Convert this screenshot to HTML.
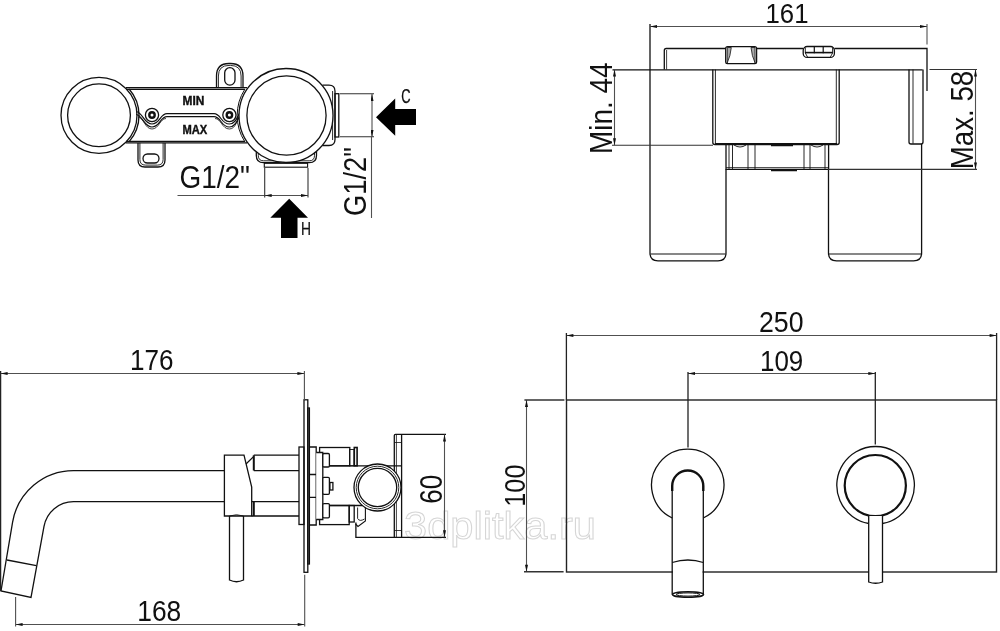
<!DOCTYPE html>
<html><head><meta charset="utf-8">
<style>
html,body{margin:0;padding:0;background:#fff;width:1000px;height:631px;overflow:hidden}
svg{display:block;will-change:transform}
.o{fill:none;stroke:#111;stroke-width:1.3}
.d{fill:none;stroke:#505050;stroke-width:1.1}
.t{fill:#111;font-family:"Liberation Sans",sans-serif}
.f{fill:#000;stroke:none}
</style></head><body>
<svg width="1000" height="631" viewBox="0 0 1000 631">
<defs>
<marker id="ar" viewBox="0 0 7 3" refX="7" refY="1.5" markerWidth="8" markerHeight="3" markerUnits="userSpaceOnUse" orient="auto-start-reverse"><path d="M0,0 L7,1.5 L0,3 z" fill="#111"/></marker>
</defs>

<!-- watermark -->
<text x="404" y="539" font-family="Liberation Sans" font-size="38" textLength="192" lengthAdjust="spacingAndGlyphs" fill="none" stroke="#d6d6d6" stroke-width="1">3dplitka.ru</text>

<!-- ============ TOP LEFT ============ -->
<g class="o">
 <circle cx="99" cy="115.3" r="38"/>
 <circle cx="99" cy="115.3" r="31.4"/>
 <path d="M129.1 89 A40 40 0 0 1 129.2 141.6"/>
 <path d="M126 87.6 L247 87.6 M126 89.3 L245 89.3 M126 141.4 L245 141.4 M126 142.9 L247 142.9"/>
 <!-- wavy -->
 <path d="M136 111.5 C143 112.5,144 124,152 124 C160 124,160 113.7,167 113.7 L214 113.7 C221 113.7,221 124,229.4 124 C237.4 124,238 112.5,241 111.5" stroke-width="1.2"/>
 <path d="M136 114.5 C143 115.5,144 127,152 127 C160 127,160 116.7,167 116.7 L214 116.7 C221 116.7,221 127,229.4 127 C237.4 127,238 115.5,241 114.5" stroke-width="1.2"/>
 <path d="M138 117 C144 118,145 129,152 129 C159 129,160 118.5,166 118.5 M215 118.5 C221 118.5,222 129,229.4 129 C236.4 129,237 118,240 117" stroke-width="0.8"/>
 <circle cx="152" cy="115" r="6.6"/>
 <circle cx="152" cy="115" r="2.7" stroke-width="2.4"/>
 <circle cx="229.4" cy="115" r="6.6"/>
 <circle cx="229.4" cy="115" r="2.7" stroke-width="2.4"/>
 <!-- top tab -->
 <path d="M216.5 87.6 L216.5 76 Q216.5 63.5 229 63.5 L230.5 63.5 Q243 63.5 243 76 L243 87.6"/>
 <path d="M218.4 87.6 L218.4 76 Q218.4 65.4 229 65.4 L230.5 65.4 Q241.1 65.4 241.1 76 L241.1 87.6" stroke-width="0.9"/>
 <rect x="224.7" y="67.7" width="10.3" height="17.4" rx="5.1"/>
 <!-- bottom tab -->
 <path d="M138 142.9 L138 160 Q138 167 145 167 L158 167 Q165 167 165 160 L165 142.9"/>
 <path d="M139.9 142.9 L139.9 159.5 Q139.9 165.1 145.5 165.1 L157.5 165.1 Q163.1 165.1 163.1 159.5 L163.1 142.9" stroke-width="0.9"/>
 <rect x="143" y="154" width="16" height="9" rx="4.5"/>
 <!-- right circle -->
 <path d="M322.5 85.2 L329 85.2 Q335 85.2 335 91.2 L335 139.5 Q335 145.5 329 145.5 L322.5 145.5"/>
 <path d="M332.6 91 L332.6 140" stroke-width="0.9"/>
 <rect x="335" y="93.7" width="3.8" height="43.3"/>
 <path d="M256.3 150 L256.3 155.5 Q256.3 162.7 263.5 162.7 L309.3 162.7 Q316.5 162.7 316.5 155.5 L316.5 150"/>
 <path d="M258.3 151 L258.3 155.5 Q258.3 160.8 263.6 160.8 L309.2 160.8 Q314.5 160.8 314.5 155.5 L314.5 151" stroke-width="0.9"/>
 <rect x="264.3" y="163.3" width="43.3" height="3.9" stroke-width="1.1"/>
 <circle cx="286" cy="115.5" r="47" fill="#fff"/>
 <circle cx="286.5" cy="115.5" r="39.6"/>
 <path d="M244.8 89.3 A48.8 48.8 0 0 0 244.8 141.7" stroke-width="1"/>
</g>
<g class="t">
 <text x="182.5" y="105.3" font-size="12" font-weight="bold" textLength="21.8" lengthAdjust="spacingAndGlyphs" stroke="#111" stroke-width="0.4">MIN</text>
 <text x="182.5" y="133.6" font-size="12" font-weight="bold" textLength="24.8" lengthAdjust="spacingAndGlyphs" stroke="#111" stroke-width="0.4">MAX</text>
</g>
<!-- dims top-left -->
<g class="d">
 <path d="M177.5 195.5 L264.7 195.5"/>
 <path d="M264.7 195.5 L308 195.5" marker-start="url(#ar)" marker-end="url(#ar)"/>
 <path d="M264.7 168 L264.7 197.5 M308 168 L308 197.5" stroke="#333"/>
 <path d="M340 93.8 L374 93.8 M340 136.8 L374 136.8" stroke="#333"/>
 <path d="M372 94 L372 137" marker-start="url(#ar)" marker-end="url(#ar)"/>
 <path d="M371.5 137 L371.5 218"/>
</g>
<g class="f">
 <polygon points="376,117.2 395.2,98.5 395.2,109.1 416,109.1 416,125 395.2,125 395.2,135.8"/>
 <polygon points="289.2,198.7 308,217.8 297.5,217.8 297.5,238 281,238 281,217.8 270.3,217.8"/>
</g>
<g class="t">
 <text x="179.5" y="188" font-size="31" textLength="70.5" lengthAdjust="spacingAndGlyphs">G1/2"</text>
 <text transform="translate(365.5,216) rotate(-90)" x="0" y="0" font-size="31.5" textLength="69" lengthAdjust="spacingAndGlyphs">G1/2"</text>
 <text x="401.3" y="102.7" font-size="19.5" textLength="9.3" lengthAdjust="spacingAndGlyphs" stroke="#000" stroke-width="0.25">C</text>
 <text x="301" y="234.6" font-size="19" textLength="10" lengthAdjust="spacingAndGlyphs" stroke="#000" stroke-width="0.2">H</text>
</g>

<!-- ============ TOP RIGHT ============ -->
<g class="o">
 <path d="M650 24 L650 253 Q650 260.8 658 260.8 L718 260.8 Q726 260.8 726 253 L726 169.3"/>
 <path d="M650.5 254 L725.5 254" stroke-width="1.2"/>
 <path d="M828.5 169.3 L828.5 253 Q828.5 260.8 836.5 260.8 L913.6 260.8 Q921.6 260.8 921.6 253 L921.6 144"/>
 <path d="M829 254 L921 254" stroke-width="1.2"/>
 <path d="M664.3 69.5 L664.3 50.5 Q664.3 48.5 666.3 48.5 L725.7 48.5 M756.6 48.5 L803.2 48.5 M834.4 48.5 L927 48.5 L927 91"/>
 <path d="M666.6 69.5 L666.6 50" stroke-width="0.8"/>
 <path d="M612.5 69.8 L922.5 69.8"/>
 <path d="M725.7 48.5 L725.7 62 Q725.7 63.6 727.3 63.6 L755 63.6 Q756.6 63.6 756.6 62 L756.6 48.5 Q756.6 46.6 754.7 46.6 L727.6 46.6 Q725.7 46.6 725.7 48.5 Z"/>
 <path d="M727.3 47.5 L731.3 47.5 Q730.5 56 727.2 63 Z" fill="#aaa" stroke-width="0.8"/>
 <path d="M755 47.5 L751 47.5 Q751.8 56 755.1 63 Z" fill="#aaa" stroke-width="0.8"/>
 <rect x="803.2" y="46.5" width="31.2" height="10.9" rx="4"/>
 <path d="M805 52.6 L832.8 52.6" stroke-width="1.6"/>
 <path d="M814.3 46.8 L814.3 53.3 M823.2 46.8 L823.2 53.3" stroke-width="1.2"/>
 <path d="M805.3 47.5 L805.3 53 L807.8 57.5 M832.6 47.5 L832.6 53 L830.1 57.5" stroke-width="0.9"/>
 <path d="M712.8 69.5 L712.8 142.5 Q712.8 144.5 715 144.5 L837 144.5 Q839.2 144.5 839.2 142.5 L839.2 69.5"/>
 <path d="M715.4 69.5 L715.4 143 M836.3 69.5 L836.3 143" stroke-width="0.9"/>
 <path d="M909 69.5 L909 142 Q909 144 911 144 L921 144 Q923 144 923 142 L923 69.5"/>
 <path d="M913 69.5 L913 143.5" stroke-width="0.9"/>
 <path d="M726 144.5 L726 169.3 L828.6 169.3 L828.6 144.5"/>
 <path d="M729 144.5 L729 169 M732.5 144.5 L732.5 169 M748 144.5 L748 169 M755 144.5 L755 169 M804 144.5 L804 169 M810 144.5 L810 169 M825 144.5 L825 169" stroke-width="0.9"/>
 <path d="M734 145 Q740 149 746 145 M811 145 Q817 149 823 145" stroke-width="0.9"/>
 <path d="M771 145.5 L793 145.5 M771 170.5 L797 170.5" stroke-width="1.6"/>
 <path d="M715 143.8 L837 143.8" stroke-width="1.6"/>
 <path d="M726 167.6 L828.6 167.6" stroke-width="0.8"/>
</g>
<g class="d">
 <path d="M650 26.5 L927 26.5" marker-start="url(#ar)" marker-end="url(#ar)"/>
 <path d="M927 24 L927 44.5"/>
 <path d="M929.5 69.5 L977 69.5 M612 145.3 L713 145.3 M828 169.4 L977 169.4" stroke="#333"/>
 <path d="M614.5 69.5 L614.5 145.3" marker-start="url(#ar)" marker-end="url(#ar)"/>
 <path d="M975.5 69.5 L975.5 169.4" marker-start="url(#ar)" marker-end="url(#ar)"/>
</g>
<g class="t">
 <text x="765.5" y="23" font-size="28.5" textLength="43" lengthAdjust="spacingAndGlyphs">161</text>
 <text transform="translate(612.3,154) rotate(-90)" font-size="31.5" textLength="91.5" lengthAdjust="spacingAndGlyphs">Min. 44</text>
 <text transform="translate(972.8,169.3) rotate(-90)" font-size="31.5" textLength="98.5" lengthAdjust="spacingAndGlyphs">Max. 58</text>
</g>

<!-- ============ BOTTOM LEFT ============ -->
<g class="o">
 <path d="M224.4 470.6 L73.5 470.6 A61.8 61.8 0 0 0 12.6 522.2 L1 591 L31 597.4 L44 526.4 A30 30 0 0 1 73.5 501.6 L224.4 501.6"/>
 <path d="M7 560 L36.4 565.6"/>
 <path d="M224.4 455.2 L244 455.2 L251.7 487 L251.7 516 L224.4 516 Z"/>
 <path d="M246 464 L253.8 456.4"/>
 <path d="M229.5 516 L229.5 580 Q236.5 583.5 243.5 580 L243.5 516"/>
 <path d="M229.5 516 Q236.5 513.5 243.5 516" stroke-width="0.9"/>
 <path d="M253.8 455.2 L299 455.2 M253.8 470.6 L299 470.6 M251.7 501.6 L299 501.6 M251.7 516 L299 516"/>
 <path d="M253.8 455.2 L253.8 470.6 M253.8 501.6 L253.8 516" stroke-width="2"/>
 <rect x="299" y="447" width="5" height="77.5"/>
 <rect x="304" y="399.8" width="3.8" height="172.5"/>
 <rect x="307.8" y="408" width="1.6" height="156" fill="#666"/>
 <path d="M309.6 447 L316.2 447 L316.2 525 L309.6 525 M309.6 474.5 L316.2 474.5 M309.6 497.3 L316.2 497.3"/>
 <rect x="319.6" y="447.5" width="30.2" height="18.3"/>
 <rect x="349.5" y="449.5" width="4.5" height="16.3" stroke-width="0.9"/>
 <rect x="354.3" y="447.5" width="2.8" height="18.3" stroke-width="1.6"/>
 <rect x="319.6" y="505.5" width="29.6" height="19.1"/>
 <rect x="349.2" y="505.5" width="5" height="16.5"/>
 <path d="M322.6 465.8 L401.6 465.8 M322.6 505.5 L370 505.5"/>
 <path d="M316.2 452.5 L322.8 452.5 L322.8 519.5 L316.2 519.5" fill="#fff"/>
 <rect x="322.8" y="453.5" width="6.6" height="13.5" rx="1.2" fill="#fff"/>
 <rect x="322.8" y="477.4" width="6.6" height="16.9" rx="1.2" fill="#fff"/>
 <rect x="329.9" y="482.5" width="3" height="7.5"/>
 <rect x="322.8" y="503.6" width="6.6" height="14.2" rx="1.2" fill="#fff"/>
 <path d="M394.3 537.3 L394.3 435.5 Q394.3 434.3 395.5 434.3 L446 434.3 M401.6 434.3 L401.6 537.3 M355.9 522.5 L355.9 537.3 L446 537.3"/>
 <path d="M394.3 442.5 L401.6 442.5 M394.3 530.5 L401.6 530.5 M396.4 435 L396.4 537" stroke-width="0.8"/>
 <path d="M355.5 505.5 L365.4 505.5 L365.4 521 L358 526.5 L355.5 524" stroke-width="1.1"/>
 <path d="M357.6 507.5 L357.6 518.5 Q359.5 522 364.5 519" stroke-width="0.9"/>
 <circle cx="377.5" cy="487.5" r="23.5" fill="#fff"/>
 <circle cx="377.5" cy="487.5" r="21.3" stroke-width="0.9"/>
 <circle cx="377.5" cy="487.5" r="19.2"/>
</g>
<g class="d">
 <path d="M0.6 373.5 L304.4 373.5" marker-start="url(#ar)" marker-end="url(#ar)"/>
 <path d="M0.6 371 L0.6 591" stroke-width="1.3" stroke="#222"/>
 <path d="M304.4 371 L304.4 399.8"/>
 <path d="M15.6 624.5 L304.7 624.5" marker-start="url(#ar)" marker-end="url(#ar)"/>
 <path d="M15.6 597 L15.6 626.5 M304.7 574.7 L304.7 626.5"/>
 <path d="M444.5 434.5 L444.5 537.3" marker-start="url(#ar)" marker-end="url(#ar)"/>
</g>
<g class="t">
 <text x="130" y="370.4" font-size="30.3" textLength="43.5" lengthAdjust="spacingAndGlyphs">176</text>
 <text x="137.3" y="621" font-size="30.3" textLength="44" lengthAdjust="spacingAndGlyphs">168</text>
 <text transform="translate(442,503.8) rotate(-90)" font-size="31.5" textLength="29" lengthAdjust="spacingAndGlyphs">60</text>
</g>

<!-- ============ BOTTOM RIGHT ============ -->
<g class="o">
 <rect x="566.5" y="400" width="430" height="172" stroke-width="1.4" stroke="#222"/>
 <path d="M672.2 518 A36.2 36.2 0 1 1 703.3 518"/>
 <path d="M672.2 491 L672.2 486 A15.55 15.55 0 0 1 703.3 486 L703.3 491" stroke-width="2.4"/>
 <rect x="672.9" y="525" width="29.7" height="69" fill="#fff" stroke="none"/>
 <path d="M672.2 486 L672.2 594.5 M703.3 486 L703.3 594.5"/>
 <path d="M672.2 562.5 Q688 557.5 703.3 562.5"/>
 <ellipse cx="688" cy="594.5" rx="15.5" ry="2.8" stroke-width="1.6"/>
 <ellipse cx="688" cy="594.5" rx="12" ry="1.6" stroke-width="1"/>
 <path d="M868.7 523.5 A38.8 38.8 0 1 1 882.5 523.5"/>
 <circle cx="875.3" cy="485.6" r="30.6" stroke-width="2.2"/>
 <path d="M868.7 516 L868.7 582 Q875.6 584.5 882.5 582 L882.5 516" fill="#fff"/>
</g>
<g class="d">
 <path d="M566.4 335.5 L996.6 335.5" marker-start="url(#ar)" marker-end="url(#ar)"/>
 <path d="M566.4 333 L566.4 400 M996.6 333 L996.6 400" stroke-width="1.3" stroke="#222"/>
 <path d="M688 373.5 L875.3 373.5" marker-start="url(#ar)" marker-end="url(#ar)"/>
 <path d="M688 372 L688 447.5 M875.3 372 L875.3 444.5" stroke-width="1.3" stroke="#222"/>
 <path d="M526.5 400 L526.5 571.7" marker-start="url(#ar)" marker-end="url(#ar)"/>
 <path d="M524.4 400 L564.4 400 M524 571.7 L563.6 571.7" stroke-width="1.5" stroke="#333"/>
</g>
<g class="t">
 <text x="759" y="332" font-size="30.3" textLength="44.5" lengthAdjust="spacingAndGlyphs">250</text>
 <text x="760" y="371" font-size="30.3" textLength="43.3" lengthAdjust="spacingAndGlyphs">109</text>
 <text transform="translate(524.6,506.8) rotate(-90)" font-size="30.3" textLength="42.3" lengthAdjust="spacingAndGlyphs">100</text>
</g>
</svg>
</body></html>
